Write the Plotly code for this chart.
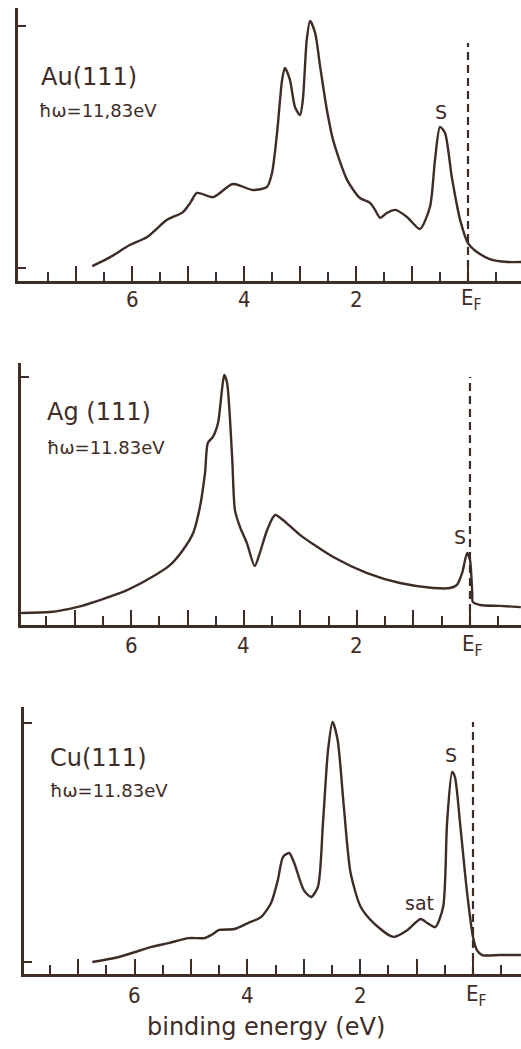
import plotly.graph_objects as go

# ---- data (binding energy in eV, intensity in arb. units) ----
au_energy = [6.71, 6.39, 6.04, 5.73, 5.38, 5.09, 4.96, 4.84, 4.55, 4.20, 3.84, 3.59, 3.50, 3.41,
             3.32, 3.27, 3.18, 3.09, 3.00, 2.95, 2.88, 2.82, 2.73, 2.64, 2.52, 2.41, 2.16, 1.93,
             1.75, 1.66, 1.57, 1.45, 1.30, 1.09, 0.86, 0.68, 0.59, 0.50, 0.41, 0.29, 0.14, 0.00,
             -0.16, -0.39, -0.70, -0.95]
au_intensity = [0.8, 4.5, 9.5, 12.8, 19.8, 23.1, 26.9, 31.0, 29.3, 34.7, 32.2, 33.5, 39.3, 55.8,
                77.7, 82.6, 77.7, 66.5, 63.2, 69.4, 94.2, 102.1, 97.1, 83.1, 65.3, 52.9, 36.4, 28.9,
                26.9, 24.0, 20.7, 22.7, 24.0, 21.1, 16.1, 25.2, 44.6, 58.3, 55.8, 37.6, 19.8, 10.3,
                6.6, 3.7, 2.5, 2.5]

ag_energy = [7.93, 7.43, 6.96, 6.55, 6.07, 5.66, 5.31, 5.08, 4.90, 4.78, 4.69, 4.64, 4.55, 4.46,
             4.39, 4.35, 4.30, 4.21, 4.16, 4.07, 3.95, 3.81, 3.72, 3.59, 3.45, 3.31, 3.01, 2.42,
             1.82, 1.24, 0.65, 0.35, 0.23, 0.14, 0.05, 0.00, -0.04, -0.05, -0.18, -0.53, -0.90]
ag_intensity = [0.0, 0.4, 2.5, 5.5, 9.7, 14.8, 20.3, 26.7, 33.9, 44.9, 59.3, 72.0, 74.6, 80.5,
                94.5, 100.8, 97.5, 66.1, 43.6, 36.4, 29.7, 19.9, 25.4, 35.2, 41.5, 39.4, 33.1, 23.7,
                16.9, 12.7, 10.6, 10.6, 11.9, 16.9, 25.4, 22.5, 8.5, 4.7, 3.4, 3.0, 2.5]

cu_energy = [6.75, 6.28, 5.70, 5.40, 5.04, 4.76, 4.64, 4.50, 4.23, 3.99, 3.76, 3.58, 3.46, 3.37,
             3.26, 3.17, 3.00, 2.87, 2.75, 2.66, 2.57, 2.49, 2.40, 2.29, 2.17, 1.99, 1.76, 1.41,
             1.16, 0.93, 0.81, 0.67, 0.53, 0.46, 0.37, 0.32, 0.23, 0.11, 0.00, -0.07, -0.16,
             -0.48, -0.85]
cu_intensity = [0.0, 2.1, 6.3, 7.9, 10.0, 10.0, 11.3, 13.4, 13.8, 16.3, 18.8, 24.7, 34.3, 43.9,
                45.6, 41.4, 30.1, 27.2, 31.4, 58.2, 88.7, 100.4, 92.9, 64.9, 37.2, 23.0, 16.3, 10.5,
                13.4, 18.0, 16.3, 14.6, 23.0, 58.2, 79.5, 77.4, 58.2, 30.1, 10.5, 5.0, 2.9,
                2.9, 2.9]

major_ticks = [0, 1, 2, 3, 4, 5, 6, 7]
minor_ticks = [-0.5, 0.5, 1.5, 2.5, 3.5, 4.5, 5.5, 6.5, 7.5]
label_values = [6, 4, 2, 0]
label_texts = ["6", "4", "2", "E<sub>F</sub>"]
fermi_energy = 0.0

samples = ["Au(111)", "Ag (111)", "Cu(111)"]
photon_labels = ["ħω=11,83eV", "ħω=11.83eV", "ħω=11.83eV"]
x_axis_title = "binding energy (eV)"

# ---- style / layout ----
W, H = 521, 1049
INK = "#3e2c27"
FONT_NUM = "DejaVu Sans Condensed, Liberation Sans Narrow, DejaVu Sans, sans-serif"
FONT = "DejaVu Sans, sans-serif"

def py(p):
    return 1 - p / H

def px(p):
    return p / W

panels = [
    dict(left=18, bottom=281, top=8, xr=[8.036, -0.946], yr=[-5.37, 107.4], lab=300),
    dict(left=21, bottom=625, top=363, xr=[7.947, -0.903], yr=[-5.08, 105.9], lab=645),
    dict(left=24, bottom=974, top=707, xr=[7.961, -0.851], yr=[-5.02, 106.7], lab=995),
]
dash_tops = [43, 377, 722]
series = [(au_energy, au_intensity), (ag_energy, ag_intensity), (cu_energy, cu_intensity)]

fig = go.Figure()
layout = dict(width=W, height=H, margin=dict(l=0, r=0, t=0, b=0),
              paper_bgcolor="white", plot_bgcolor="white", showlegend=False,
              annotations=[], shapes=[])

for i, (p, (e, inten)) in enumerate(zip(panels, series)):
    n = "" if i == 0 else str(i + 1)
    fig.add_trace(go.Scatter(x=e, y=inten, mode="lines", xaxis="x" + n, yaxis="y" + n,
                             line=dict(color=INK, width=2.4, shape="spline", smoothing=0.7),
                             hoverinfo="skip"))
    layout["xaxis" + n] = dict(
        domain=[px(p["left"]), 1], range=p["xr"], anchor="y" + n,
        showgrid=False, zeroline=False, showline=True, linecolor=INK, linewidth=3,
        tickmode="array", tickvals=major_ticks, showticklabels=False,
        ticks="inside", ticklen=15, tickwidth=2, tickcolor=INK,
        minor=dict(tickmode="array", tickvals=minor_ticks, ticks="inside", ticklen=9,
                   tickwidth=2, tickcolor=INK, showgrid=False),
        fixedrange=True,
    )
    layout["yaxis" + n] = dict(
        domain=[py(p["bottom"]), py(p["top"])], range=p["yr"], anchor="x" + n,
        showgrid=False, zeroline=False, showline=True, linecolor=INK, linewidth=3,
        tickmode="array", tickvals=[0, 100], ticks="inside", ticklen=8, tickwidth=2,
        tickcolor=INK, showticklabels=False, fixedrange=True,
    )
    # dashed Fermi level line
    frac = (p["bottom"] - dash_tops[i]) / (p["bottom"] - p["top"])
    layout["shapes"].append(dict(type="line", xref="x" + n, yref="y" + n + " domain",
                                 x0=fermi_energy, x1=fermi_energy, y0=0, y1=frac,
                                 line=dict(color=INK, width=2.2, dash="8px,5px")))
    # tick labels
    for v, t in zip(label_values, label_texts):
        layout["annotations"].append(dict(text=t, x=v, y=py(p["lab"]), xref="x" + n,
                                          yref="paper", xanchor="center", yanchor="middle",
                                          xshift=3 if v == 0 else 0, showarrow=False,
                                          font=dict(family=FONT_NUM, size=22, color=INK)))

ann_specs = [
    (samples[0], 39, 77, 24), (photon_labels[0], 37, 110, 18),
    (samples[1], 45, 412, 24), (photon_labels[1], 45, 447, 18),
    (samples[2], 48, 758, 24), (photon_labels[2], 48, 790, 18),
]
for text, x, y, s in ann_specs:
    layout["annotations"].append(dict(text=text, x=px(x), y=py(y), xref="paper", yref="paper",
                                      xanchor="left", yanchor="middle", showarrow=False,
                                      font=dict(family=FONT, size=s, color=INK)))
for text, x, y in [("S", 441, 112), ("S", 460, 537), ("S", 451, 755), ("sat", 419, 903)]:
    layout["annotations"].append(dict(text=text, x=px(x), y=py(y), xref="paper", yref="paper",
                                      xanchor="center", yanchor="middle", showarrow=False,
                                      font=dict(family=FONT, size=19, color=INK)))
layout["annotations"].append(dict(text=x_axis_title, x=px(266), y=py(1027), xref="paper",
                                  yref="paper", xanchor="center", yanchor="middle",
                                  showarrow=False, font=dict(family=FONT, size=24, color=INK)))

fig.update_layout(**layout)
fig.write_html("out.html")
